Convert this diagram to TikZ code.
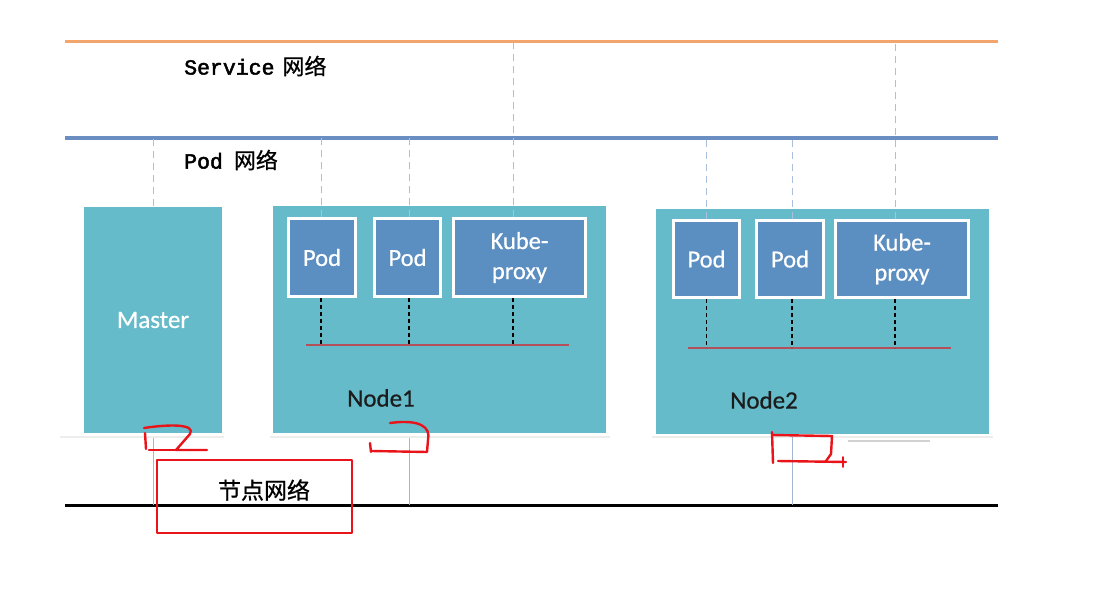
\documentclass[tikz,border=0pt]{standalone}
\usepackage{fontspec}
\setmainfont[FakeBold=0.6]{Carlito}
\newfontfamily\cjk[FakeBold=0.8]{Noto Sans CJK SC}
\newfontfamily\monofam[FakeBold=2.2]{Liberation Mono}

\definecolor{boxteal}{HTML}{65BBC9}
\definecolor{podblue}{HTML}{5B8EC1}
\definecolor{svcorange}{HTML}{F2A66E}
\definecolor{podnetblue}{HTML}{6A8EC2}
\definecolor{guideblue}{HTML}{A9C1DD}
\definecolor{busred}{HTML}{B5505A}
\definecolor{inkred}{HTML}{E8141A}
\definecolor{labeldark}{HTML}{1C1C1C}

\tikzset{
  hostbox/.style={fill=boxteal, draw=none, inner sep=0pt},
  podbox/.style={fill=podblue, draw=white, line width=3pt, inner sep=0pt,
                 text=white, align=center, font=\fontsize{24.5}{30}\selectfont},
  hostlabel/.style={inner sep=0pt, font=\fontsize{25}{28}\selectfont},
  netlabel/.style={inner sep=0pt, anchor=west},
  guide/.style={draw=guideblue, line width=1pt, dash pattern=on 7pt off 5pt},
  uplink/.style={draw=guideblue!85!gray, line width=0.9pt},
  link/.style={draw=black, line width=1.2pt, dash pattern=on 4pt off 3pt},
  bus/.style={draw=busred, line width=1.1pt},
  ink/.style={draw=inkred, line width=2.4pt, line cap=round, line join=round},
}

\begin{document}
\begin{tikzpicture}[x=1pt, y=-1pt]
  \useasboundingbox[fill=white] (0,0) rectangle (1110,594);

  % network rails
  \coordinate (svcL) at (65,42);   \coordinate (svcR) at (998,42);
  \coordinate (podL) at (65,138);  \coordinate (podR) at (998,138);
  \coordinate (hostL) at (65,505); \coordinate (hostR) at (998,505);
  \coordinate (bus1W) at (306,345); \coordinate (bus1E) at (569,345);
  \coordinate (bus2W) at (688,348); \coordinate (bus2E) at (951,348);

  % faint shadows under the hosts
  \draw[black!7, line width=1.5pt] (60,437) -- (224,437) (270,437) -- (610,437) (652,437) -- (993,437);
  \draw[black!18, line width=1.5pt] (848,441) -- (930,441);

  % hosts
  \node[hostbox, minimum width=138pt, minimum height=226pt] (master) at (153,319.5) {};
  \node[hostbox, minimum width=333.5pt, minimum height=226.7pt] (node1) at (439.25,319.35) {};
  \node[hostbox, minimum width=333pt, minimum height=225pt] (node2) at (822.5,321.5) {};

  \node[hostlabel, text=white] (masterlbl) at (153,320) {Master};
  \node[hostlabel, text=labeldark] (node1lbl) at (381,398) {Node1};
  \node[hostlabel, text=labeldark] (node2lbl) at (764,400) {Node2};

  % pods and proxies
  \node[podbox, minimum width=66.5pt, minimum height=77.3pt] (pod11) at (322,257.5) {Pod};
  \node[podbox, minimum width=65.5pt, minimum height=77.3pt] (pod12) at (407.5,257.5) {Pod};
  \node[podbox, minimum width=132pt, minimum height=77.3pt] (kp1) at (519.5,257.5) {Kube-\\proxy};
  \node[podbox, minimum width=66pt, minimum height=77pt] (pod21) at (706.5,259) {Pod};
  \node[podbox, minimum width=67pt, minimum height=77pt] (pod22) at (790,259) {Pod};
  \node[podbox, minimum width=133pt, minimum height=77pt] (kp2) at (902,259) {Kube-\\proxy};

  % rails
  \draw[svcorange, line width=3pt] (svcL) -- (svcR);
  \draw[podnetblue, line width=4pt] (podL) -- (podR);
  \draw[black, line width=3pt] (hostL) -- (hostR);

  % attachments to the pod and service networks
  \draw[guide] (master.north) -- (master.north |- podL);
  \draw[guide] ([xshift=-1pt]pod11.north) -- ([xshift=-1pt]pod11.north |- podL);
  \draw[guide] ([xshift=1.5pt]pod12.north) -- ([xshift=1.5pt]pod12.north |- podL);
  \draw[guide] ([xshift=-6.5pt]kp1.north) -- ([xshift=-6.5pt]kp1.north |- svcL);
  \draw[guide] (pod21.north) -- (pod21.north |- podL);
  \draw[guide] ([xshift=2pt]pod22.north) -- ([xshift=2pt]pod22.north |- podL);
  \draw[guide] ([xshift=-7pt]kp2.north) -- ([xshift=-7pt]kp2.north |- svcL);

  % local bridges inside each node
  \draw[bus] (bus1W) -- (bus1E);
  \draw[bus] (bus2W) -- (bus2E);
  \draw[link] ([xshift=-1pt]pod11.south) -- ([xshift=-1pt]pod11.south |- bus1W);
  \draw[link] ([xshift=1.5pt]pod12.south) -- ([xshift=1.5pt]pod12.south |- bus1W);
  \draw[link] ([xshift=-6.5pt]kp1.south) -- ([xshift=-6.5pt]kp1.south |- bus1W);
  \draw[link] (pod21.south) -- (pod21.south |- bus2W);
  \draw[link] ([xshift=2pt]pod22.south) -- ([xshift=2pt]pod22.south |- bus2W);
  \draw[link] ([xshift=-7pt]kp2.south) -- ([xshift=-7pt]kp2.south |- bus2W);

  % attachments to the node network
  \draw[uplink, shorten <=5pt] (master.south) -- (master.south |- hostL);
  \draw[uplink, shorten <=5pt] ([xshift=1.5pt]pod12.south |- node1.south) -- ([xshift=1.5pt]pod12.south |- hostL);
  \draw[uplink, shorten <=3pt] ([xshift=2pt]pod22.south |- node2.south) -- ([xshift=2pt]pod22.south |- hostL);

  % network labels
  \node[netlabel] (svclbl) at (184,66)
    {{\fontsize{21.5}{24}\monofam Service}\hspace{8pt}{\fontsize{22}{24}\cjk 网络}};
  \node[netlabel] (podlbl) at (184,160)
    {{\fontsize{21.5}{24}\monofam Pod}\hspace{11pt}{\fontsize{22}{24}\cjk 网络}};
  \node[inner sep=0pt] (hostlbl) at (264,490) {\fontsize{23}{26}\cjk 节点网络};

  % red pen marks
  \draw[ink] (157,460) rectangle (352,533);
  \draw[ink] (145,433) -- (146,449);
  \draw[ink] (144,428) .. controls (170,424) and (196,424) .. (190,434) -- (176,450) -- (207,450);
  \draw[ink] (149,450) -- (176,450);
  \draw[ink] (390,423) .. controls (420,419) and (431,427) .. (428,440) -- (427,452) -- (372,451);
  \draw[ink] (370,443) -- (371,452);
  \draw[ink] (772,432) -- (773,463);
  \draw[ink] (772,435) -- (832,436) -- (831,454) -- (826,461);
  \draw[ink] (778,461) -- (846,462);
  \draw[ink, line width=1.8pt] (843,457) -- (843,467);
\end{tikzpicture}
\end{document}
